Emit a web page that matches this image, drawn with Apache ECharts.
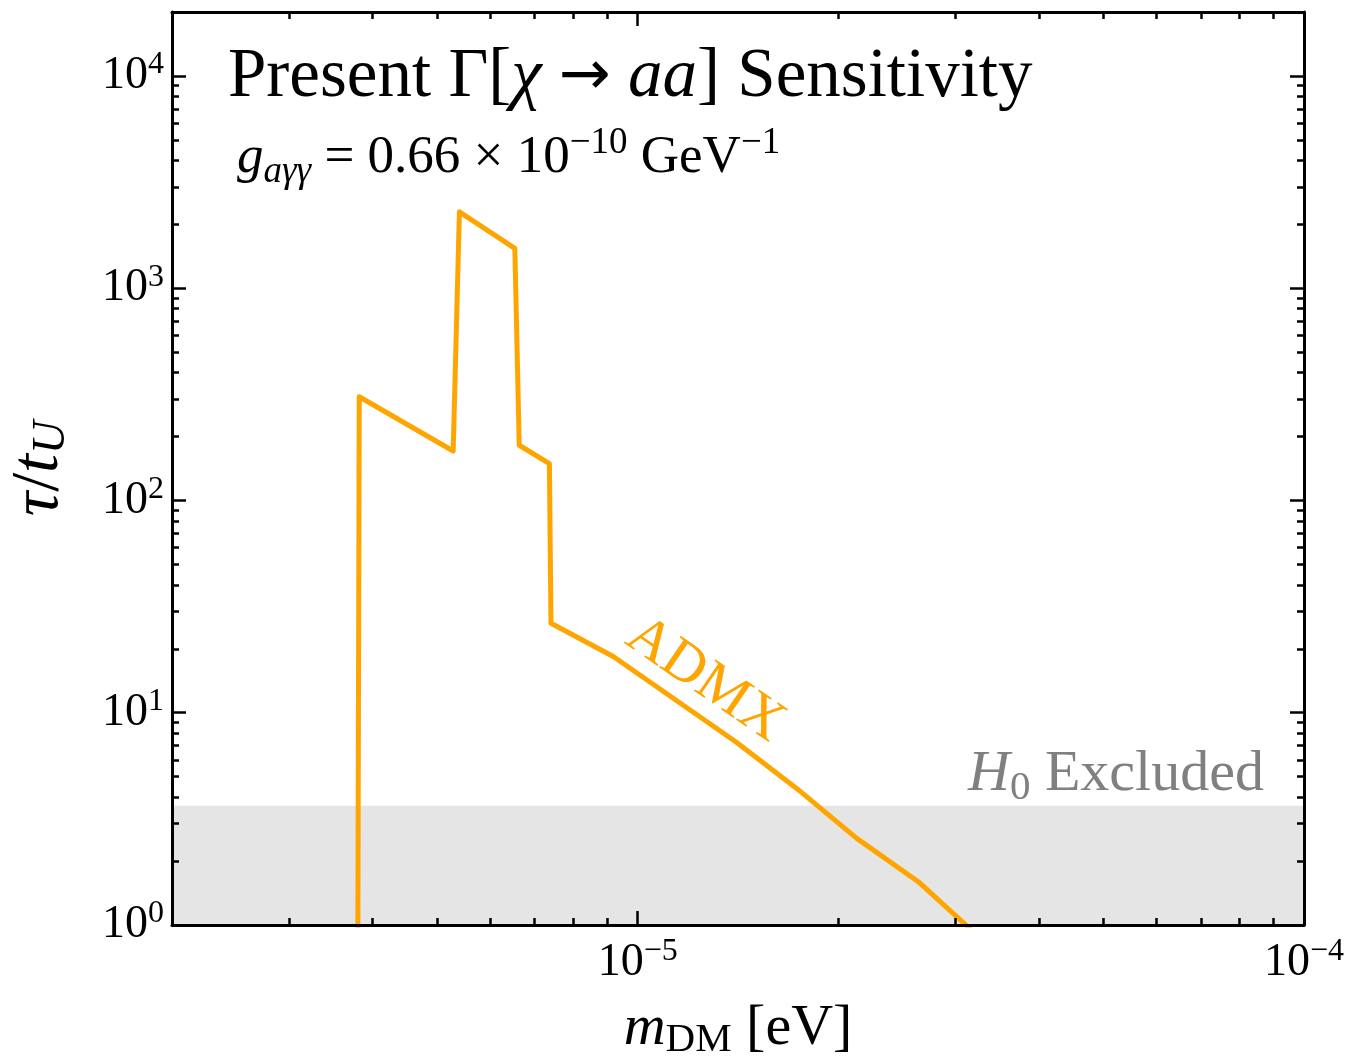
<!DOCTYPE html>
<html><head><meta charset="utf-8">
<script src="https://cdn.jsdelivr.net/npm/echarts@6/dist/echarts.min.js"></script>
<style>html,body{margin:0;padding:0;background:#fff}#chart{width:1355px;height:1060px}</style>
</head><body><div id="chart"></div>
<script>
// ---- data ----
const massEV    = [3.80e-6, 3.82e-6, 5.285e-6, 5.40e-6, 6.54e-6, 6.64e-6, 7.37e-6, 7.41e-6, 9.19e-6, 1.408e-5, 1.732e-5, 2.132e-5, 2.637e-5, 3.25e-5];
const tauOverTU = [0.5,     308,     171,      2290,    1540,    182,     149,     26.4,    18.4,    7.24,     4.40,     2.56,     1.60,     0.88];
const bandX = [2e-6, 1e-4];
const bandTop = [3.65, 3.65];
const xRange = [2e-6, 1e-4];
const yRange = [1, 2e4];
const xMajorTicks = [1e-5, 1e-4];
const xMinorTicks = [3e-6, 4e-6, 5e-6, 6e-6, 7e-6, 8e-6, 9e-6, 2e-5, 3e-5, 4e-5, 5e-5, 6e-5, 7e-5, 8e-5, 9e-5];
const yMajorTicks = [1, 10, 100, 1000, 10000];
const yMinorTicks = [2,3,4,5,6,7,8,9,20,30,40,50,60,70,80,90,200,300,400,500,600,700,800,900,2000,3000,4000,5000,6000,7000,8000,9000];

const FONT = "'Liberation Serif', 'DejaVu Serif', serif";
function expLabel(v) {
  const e = Math.round(Math.log10(v));
  return '{b|10}{e|' + (e < 0 ? '\u2212' + (-e) : e) + '}';
}
const tickRich = {
  b: {fontFamily: FONT, fontSize: 46, color: '#000', lineHeight: 54},
  e: {fontFamily: FONT, fontSize: 32, color: '#000', lineHeight: 32, verticalAlign: 'top'}
};
const lineSt = {color: '#000', width: 3};
const tickSt = {color: '#000', width: 2.5};

function makeAxis(type, pos, ticks, len, showLine, labels, extra) {
  const range = type === 'x' ? xRange : yRange;
  return Object.assign({
    type: 'log', logBase: 10, min: range[0], max: range[1], position: pos, z: 5,
    axisLine: {show: showLine, onZero: false, lineStyle: lineSt},
    axisTick: {show: true, inside: true, length: len, customValues: ticks, lineStyle: tickSt},
    minorTick: {show: false},
    axisLabel: labels ? {show: true, customValues: labels, formatter: expLabel, rich: tickRich, margin: type === 'x' ? 11 : 8} : {show: false},
    splitLine: {show: false}
  }, extra || {});
}

const chart = echarts.init(document.getElementById('chart'), null, {renderer: 'canvas'});
chart.setOption({
  animation: false,
  backgroundColor: '#fff',
  grid: {left: 172, top: 12, width: 1132, height: 913, containLabel: false, outerBoundsMode: 'none'},
  xAxis: [
    makeAxis('x', 'bottom', xMajorTicks, 14, true, xMajorTicks, {
      name: '{i|m}{s|DM}{n| [eV]}', nameLocation: 'middle', nameGap: 72,
      nameTextStyle: {rich: {
        i: {fontFamily: FONT, fontStyle: 'italic', fontSize: 58, color: '#000', lineHeight: 64},
        s: {fontFamily: FONT, fontSize: 41, color: '#000', lineHeight: 41, verticalAlign: 'bottom'},
        n: {fontFamily: FONT, fontSize: 58, color: '#000', lineHeight: 64}
      }}
    }),
    makeAxis('x', 'bottom', xMinorTicks, 7, false, null),
    makeAxis('x', 'top', xMajorTicks, 14, true, null),
    makeAxis('x', 'top', xMinorTicks, 7, false, null)
  ],
  yAxis: [
    makeAxis('y', 'left', yMajorTicks, 14, true, yMajorTicks, {
      name: '{i|\u03c4}{n|/}{i|t}{s|U}', nameLocation: 'middle', nameGap: 97, nameRotate: 90,
      nameTextStyle: {rich: {
        i: {fontFamily: FONT, fontStyle: 'italic', fontSize: 68, color: '#000', lineHeight: 72},
        s: {fontFamily: FONT, fontStyle: 'italic', fontSize: 46, color: '#000', lineHeight: 46, verticalAlign: 'bottom'},
        n: {fontFamily: FONT, fontSize: 68, color: '#000', lineHeight: 72}
      }}
    }),
    makeAxis('y', 'left', yMinorTicks, 7, false, null),
    makeAxis('y', 'right', yMajorTicks, 14, true, null),
    makeAxis('y', 'right', yMinorTicks, 7, false, null)
  ],
  series: [
    {
      type: 'line', name: 'H0 Excluded', xAxisIndex: 0, yAxisIndex: 0, z: 1,
      data: bandX.map((x, i) => [x, bandTop[i]]),
      showSymbol: false, silent: true,
      lineStyle: {width: 0, opacity: 0},
      areaStyle: {color: '#e5e5e5', opacity: 1, origin: 'start'}
    },
    {
      type: 'line', name: 'ADMX', xAxisIndex: 0, yAxisIndex: 0, z: 3,
      data: massEV.map((m, i) => [m, tauOverTU[i]]),
      showSymbol: false, clip: true,
      lineStyle: {color: '#FFA500', width: 5, join: 'round', cap: 'round'},
      itemStyle: {color: '#FFA500'}
    }
  ],
  graphic: [
    {
      type: 'text', x: 228, y: 78, z: 10,
      style: {
        text: '{n|Present \u0393[}{i|\u03c7}{n| }{a|\u2192}{n| }{i|aa}{n|] Sensitivity}',
        align: 'left', verticalAlign: 'middle', textAlign: 'left', textVerticalAlign: 'middle',
        rich: {
          n: {fontFamily: FONT, fontSize: 69, fill: '#000', lineHeight: 76},
          a: {fontFamily: "'DejaVu Sans', sans-serif", fontSize: 62, fill: '#000', lineHeight: 76},
          i: {fontFamily: FONT, fontSize: 69, fontStyle: 'italic', fill: '#000', lineHeight: 76}
        }
      }
    },
    {
      type: 'text', x: 237, y: 158, z: 10,
      style: {
        text: '{i|g}{s|a\u03b3\u03b3}{n| = 0.66 \u00d7 10}{e|\u221210}{n| GeV}{e|\u22121}',
        align: 'left', verticalAlign: 'middle', textAlign: 'left', textVerticalAlign: 'middle',
        rich: {
          n: {fontFamily: FONT, fontSize: 53, fill: '#000', lineHeight: 66},
          i: {fontFamily: FONT, fontSize: 53, fontStyle: 'italic', fill: '#000', lineHeight: 66},
          s: {fontFamily: FONT, fontSize: 37, fontStyle: 'italic', fill: '#000', lineHeight: 37, verticalAlign: 'bottom'},
          e: {fontFamily: FONT, fontSize: 37, fill: '#000', lineHeight: 37, verticalAlign: 'top'}
        }
      }
    },
    {
      type: 'text', x: 705, y: 680, rotation: -0.6, z: 10,
      style: {
        text: 'ADMX', fontFamily: FONT, fontSize: 58, fill: '#FFA500',
        align: 'center', verticalAlign: 'middle', textAlign: 'center', textVerticalAlign: 'middle'
      }
    },
    {
      type: 'text', x: 968, y: 775, z: 10,
      style: {
        text: '{i|H}{s|0}{n| Excluded}',
        align: 'left', verticalAlign: 'middle', textAlign: 'left', textVerticalAlign: 'middle',
        rich: {
          i: {fontFamily: FONT, fontSize: 58, fontStyle: 'italic', fill: '#808080', lineHeight: 68},
          s: {fontFamily: FONT, fontSize: 41, fill: '#808080', lineHeight: 41, verticalAlign: 'bottom'},
          n: {fontFamily: FONT, fontSize: 58, fill: '#808080', lineHeight: 68}
        }
      }
    }
  ]
});
</script>
</body></html>
